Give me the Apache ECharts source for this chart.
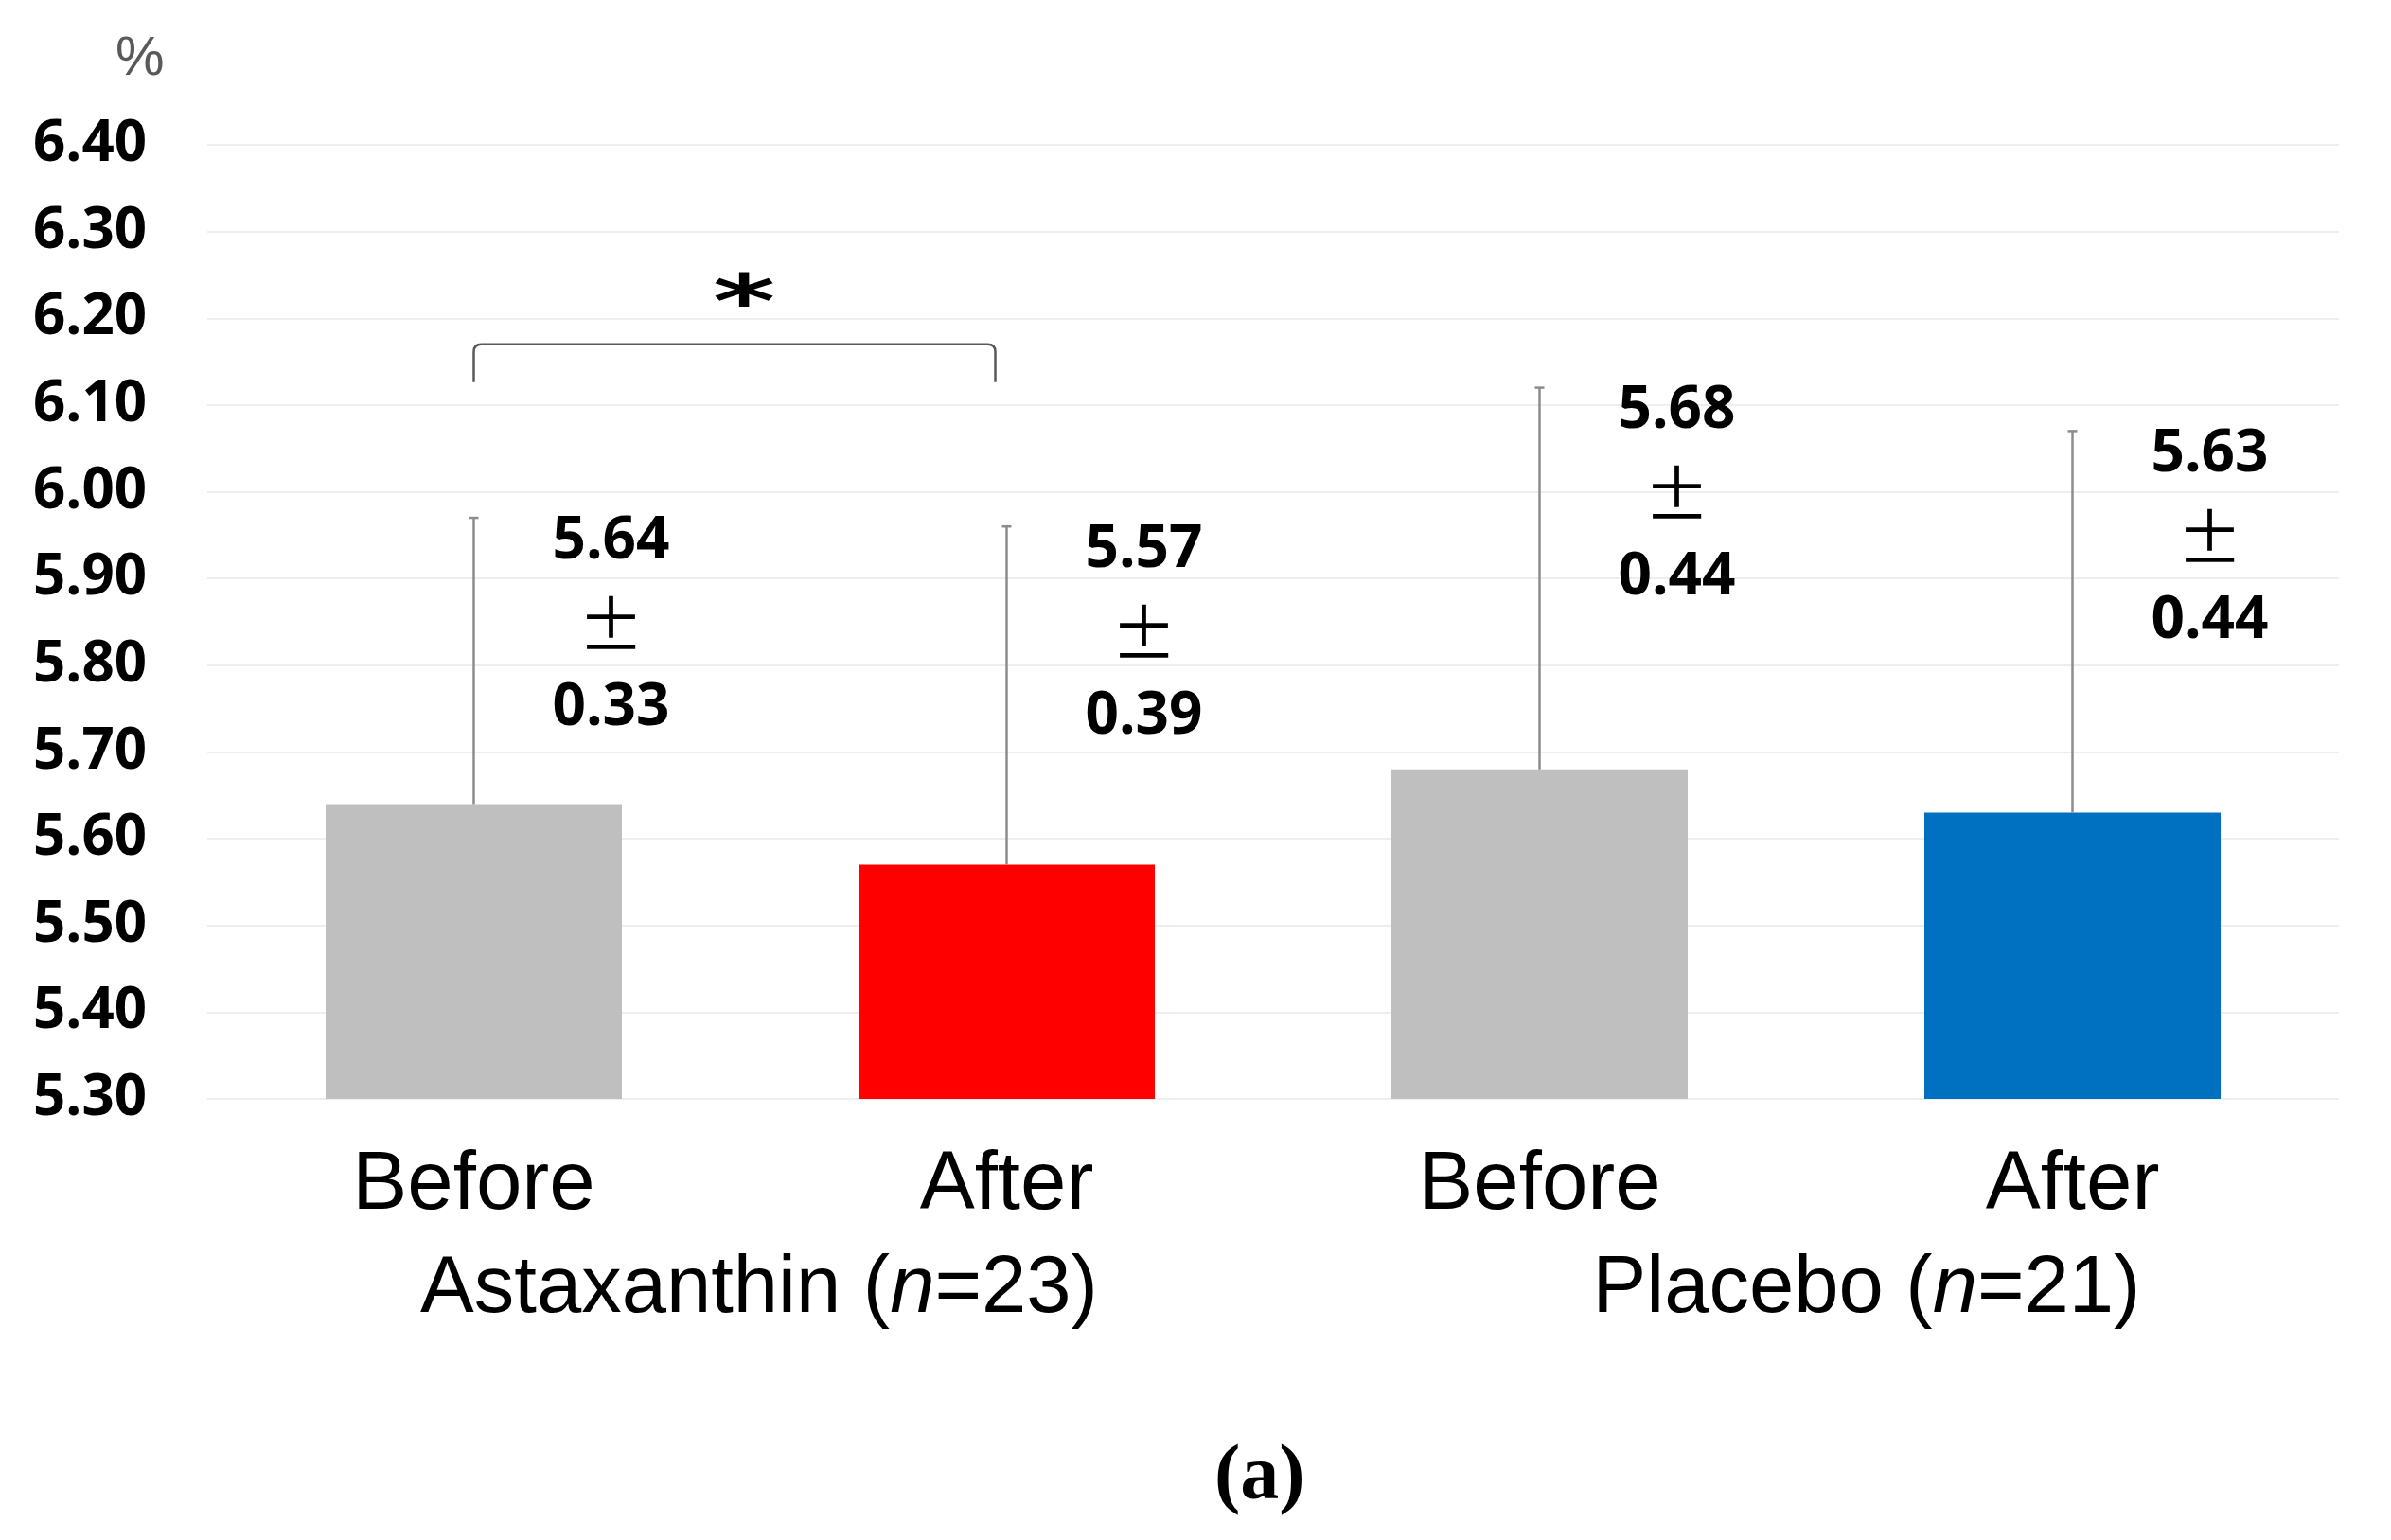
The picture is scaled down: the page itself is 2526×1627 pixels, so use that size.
<!DOCTYPE html>
<html>
<head>
<meta charset="utf-8">
<script src="https://cdn.jsdelivr.net/npm/echarts@6/dist/echarts.min.js"></script>
<style>
html,body{margin:0;padding:0;background:#fff;}
#chart{width:2526px;height:1627px;}
</style>
</head>
<body>
<div id="chart"></div>
<script>
// ---- data ----
const categories = ['Before', 'After', 'Before', 'After'];
const groupNames = ['Astaxanthin', 'Placebo'];
const groupN = [23, 21];
const means = [5.64, 5.57, 5.68, 5.63];
const sds = [0.33, 0.39, 0.44, 0.44];
const yTicks = { min: 5.3, max: 6.4, step: 0.1 };
const sigPair = [0, 1];        // compared bars
const sigMark = '*';
const sigLevel = 6.17;         // bracket level (axis units)

// ---- style ----
const barColors = ['#BFBFBF', '#FF0000', '#BFBFBF', '#0070C0'];
const numFont = '"Open Sans", "Noto Sans", sans-serif';
const catFont = '"Liberation Sans", Arial, sans-serif';

const chart = echarts.init(document.getElementById('chart'), null, { renderer: 'canvas' });

const option = {
  backgroundColor: '#ffffff',
  animation: false,
  grid: { left: 219, right: 55, top: 153, bottom: 466, containLabel: false },
  xAxis: [
    {
      type: 'category',
      data: categories,
      axisLine: { show: false },
      axisTick: { show: false },
      axisLabel: {
        margin: 49,
        fontFamily: catFont,
        fontSize: 87,
        lineHeight: 87,
        color: '#000'
      }
    },
    {
      type: 'category',
      gridIndex: 0,
      position: 'bottom',
      offset: 112,
      data: [
        { value: groupNames[0] + ' (n=' + groupN[0] + ')', textStyle: { padding: [0, 0, 0, 40] } },
        { value: groupNames[1] + ' (n=' + groupN[1] + ')', textStyle: { padding: [0, 0, 0, 128] } }
      ],
      axisLine: { show: false },
      axisTick: { show: false },
      axisLabel: {
        margin: 47,
        fontFamily: catFont,
        fontSize: 85,
        lineHeight: 85,
        color: '#000',
        formatter: function (v) {
          const m = v.match(/^(.*)\(n=(\d+)\)$/);
          return m[1] + '({i|n}=' + m[2] + ')';
        },
        rich: {
          i: { fontFamily: catFont, fontSize: 85, fontStyle: 'italic', color: '#000', lineHeight: 85 }
        }
      }
    }
  ],
  yAxis: {
    type: 'value',
    min: yTicks.min,
    max: yTicks.max,
    interval: yTicks.step,
    axisLine: { show: false },
    axisTick: { show: false },
    splitLine: { lineStyle: { color: '#EEEEEE', width: 2 } },
    axisLabel: {
      margin: 64,
      fontFamily: numFont,
      fontWeight: 'bold',
      fontSize: 60,
      color: '#000',
      formatter: v => v.toFixed(2)
    }
  },
  series: [
    {
      type: 'bar',
      xAxisIndex: 0,
      barWidth: '55.6%',
      z: 2,
      data: means.map((m, i) => ({ value: m, itemStyle: { color: barColors[i] } }))
    },
    {
      type: 'custom',
      xAxisIndex: 0,
      z: 3,
      encode: { x: 0, y: 1 },
      data: means.map((m, i) => [i, m, sds[i]]),
      renderItem: function (params, api) {
        const i = api.value(0), m = api.value(1), s = api.value(2);
        const base = api.coord([i, m]);
        const top = api.coord([i, m + s]);
        return {
          type: 'group',
          children: [
            { type: 'line', shape: { x1: base[0], y1: base[1], x2: top[0], y2: top[1] },
              style: { stroke: '#8C8C8C', lineWidth: 2.5 } },
            { type: 'line', shape: { x1: top[0] - 5, y1: top[1], x2: top[0] + 5, y2: top[1] },
              style: { stroke: '#8C8C8C', lineWidth: 2.5 } },
            { type: 'text',
              x: top[0] + 145, y: top[1] + 113,
              style: {
                text: '{n|' + m.toFixed(2) + '}\n{p|±}\n{n|' + s.toFixed(2) + '}',
                align: 'center', verticalAlign: 'middle',
                rich: {
                  n: { fontFamily: numFont, fontWeight: 'bold', fontSize: 62, lineHeight: 88, fill: '#000', align: 'center' },
                  p: { fontFamily: '"Noto Sans CJK JP", sans-serif', fontSize: 70, lineHeight: 88, fill: '#000', align: 'center' }
                }
              } }
          ]
        };
      }
    },
    {
      type: 'custom',
      xAxisIndex: 0,
      z: 3,
      encode: { x: 0, y: 2 },
      data: [[sigPair[0], sigPair[1], sigLevel]],
      renderItem: function (params, api) {
        const a = api.coord([api.value(0), api.value(2)]);
        const b = api.coord([api.value(1), api.value(2)]);
        const bx = b[0] - 12;
        const drop = 40, r = 8;
        const path = 'M' + a[0] + ' ' + (a[1] + drop) +
          ' L' + a[0] + ' ' + (a[1] + r) +
          ' Q' + a[0] + ' ' + a[1] + ' ' + (a[0] + r) + ' ' + a[1] +
          ' L' + (bx - r) + ' ' + b[1] +
          ' Q' + bx + ' ' + b[1] + ' ' + bx + ' ' + (b[1] + r) +
          ' L' + bx + ' ' + (b[1] + drop);
        return {
          type: 'group',
          children: [
            { type: 'path', shape: { pathData: path },
              style: { stroke: '#595959', lineWidth: 2.5, fill: null } },
            { type: 'text', x: (a[0] + b[0]) / 2 + 4, y: a[1] - 38, scaleX: 1.15, scaleY: 0.72,
              style: { text: sigMark, align: 'center', verticalAlign: 'middle',
                fontFamily: '"DejaVu Sans", sans-serif', fontWeight: 'bold', fontSize: 110, fill: '#000' } }
          ]
        };
      }
    }
  ],
  graphic: [
    { type: 'text', left: 122, top: 34,
      style: { text: '%', fontFamily: catFont, fontSize: 58, fill: '#595959' } },
    { type: 'text', left: 1283, top: 1521,
      style: { text: '(a)', fontFamily: '"Liberation Serif", "Times New Roman", serif', fontWeight: 'bold', fontSize: 82, fill: '#000' } }
  ]
};

chart.setOption(option);
</script>
</body>
</html>
